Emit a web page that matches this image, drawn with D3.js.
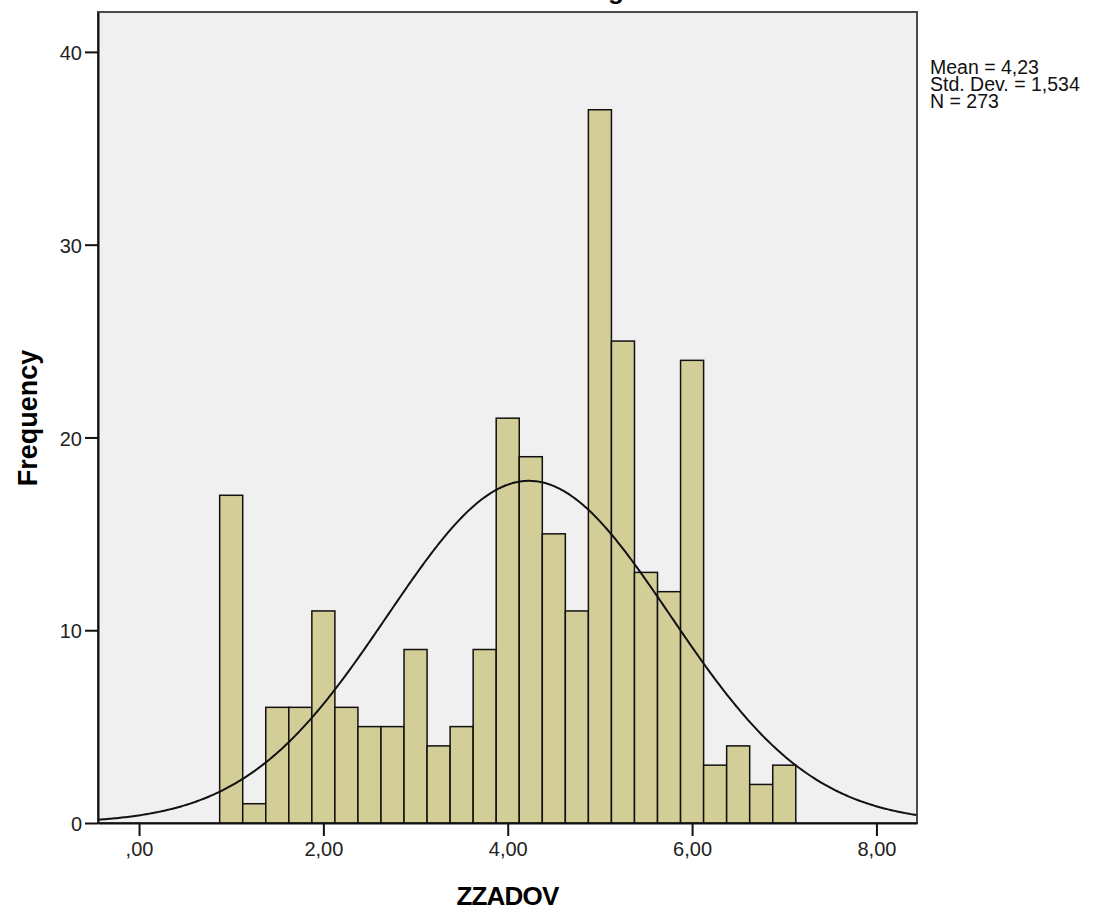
<!DOCTYPE html>
<html>
<head>
<meta charset="utf-8">
<script src="https://cdn.jsdelivr.net/npm/d3@7"></script>
<style>
  body { margin: 0; background: #fff; }
  svg { display: block; font-family: "Liberation Sans", Arial, sans-serif; }
</style>
</head>
<body>
<svg id="chart" width="1102" height="911"></svg>
<script>
// histogram of ZZADOV with fitted normal curve
const binStart = 0.875;
const binWidth = 0.25;
const counts = [17, 1, 6, 6, 11, 6, 5, 5, 9, 4, 5, 9, 21, 19, 15, 11, 37, 25, 13, 12, 24, 3, 4, 2, 3];
const xTicks = [0, 2, 4, 6, 8];
const yTicks = [0, 10, 20, 30, 40];
const stats = { mean: 4.23, sd: 1.534, n: 273 };
const statLines = ["Mean = 4,23", "Std. Dev. = 1,534", "N = 273"];

const plotL = 98, plotR = 917, plotT = 12, plotB = 823;

const x = d3.scaleLinear().domain([-0.445, 8.44]).range([plotL, plotR]);
const y = d3.scaleLinear().domain([0, 42.07]).range([plotB, plotT]);

const svg = d3.select("#chart");

// title, cut off at the top like the source image
svg.append("text")
    .attr("x", 543)
    .attr("y", -1.5)
    .attr("font-size", 26)
    .attr("font-weight", "bold")
    .text("Histogram");

// plot background + frame
svg.append("rect")
    .attr("x", plotL).attr("y", plotT)
    .attr("width", plotR - plotL).attr("height", plotB - plotT)
    .attr("fill", "#f0f0f0")
    .attr("stroke", "#4a4a4a")
    .attr("stroke-width", 2);

const bins = counts.map((c, i) => ({ x0: binStart + i * binWidth, x1: binStart + (i + 1) * binWidth, c }));

svg.append("g")
    .selectAll("rect")
    .data(bins)
    .join("rect")
    .attr("x", d => x(d.x0))
    .attr("y", d => y(d.c))
    .attr("width", d => x(d.x1) - x(d.x0))
    .attr("height", d => y(0) - y(d.c))
    .attr("fill", "#d3ce98")
    .attr("stroke", "#111")
    .attr("stroke-width", 1.5);

// normal curve scaled to counts
const scale = stats.n * binWidth / (stats.sd * Math.sqrt(2 * Math.PI));
const curvePts = d3.range(-0.445, 8.441, 0.02).map(v => [v, scale * Math.exp(-0.5 * ((v - stats.mean) / stats.sd) ** 2)]);
svg.append("path")
    .datum(curvePts)
    .attr("fill", "none")
    .attr("stroke", "#111")
    .attr("stroke-width", 2)
    .attr("d", d3.line().x(d => x(d[0])).y(d => y(d[1])));

// axes
const fmt = v => v === 0 ? ",00" : v.toFixed(2).replace(".", ",");
const xAxis = svg.append("g")
    .attr("transform", `translate(0,${plotB})`)
    .call(d3.axisBottom(x).tickValues(xTicks).tickFormat(fmt).tickSize(13).tickSizeOuter(0).tickPadding(6));
const yAxis = svg.append("g")
    .attr("transform", `translate(${plotL},0)`)
    .call(d3.axisLeft(y).tickValues(yTicks).tickSize(13).tickSizeOuter(0).tickPadding(3));

[xAxis, yAxis].forEach(g => {
    g.select(".domain").attr("stroke", "#111").attr("stroke-width", 2);
    g.selectAll(".tick line").attr("stroke", "#111").attr("stroke-width", 2);
    g.selectAll("text")
        .attr("font-family", "'Liberation Sans', Arial, sans-serif")
        .attr("font-size", 20)
        .attr("fill", "#222");
});
yAxis.selectAll("text").attr("dy", "0.38em");

// axis titles
svg.append("text")
    .attr("x", (plotL + plotR) / 2)
    .attr("y", 905)
    .attr("text-anchor", "middle")
    .attr("font-size", 26)
    .attr("font-weight", "bold")
    .attr("letter-spacing", -0.8)
    .text("ZZADOV");

svg.append("text")
    .attr("transform", "translate(37,418) rotate(-90)")
    .attr("text-anchor", "middle")
    .attr("font-size", 27)
    .attr("font-weight", "bold")
    .text("Frequency");

// stats box
svg.append("g")
    .selectAll("text")
    .data(statLines)
    .join("text")
    .attr("x", 930)
    .attr("y", (d, i) => 74 + i * 17)
    .attr("font-size", 19.5)
    .attr("fill", "#111")
    .text(d => d);
</script>
</body>
</html>
